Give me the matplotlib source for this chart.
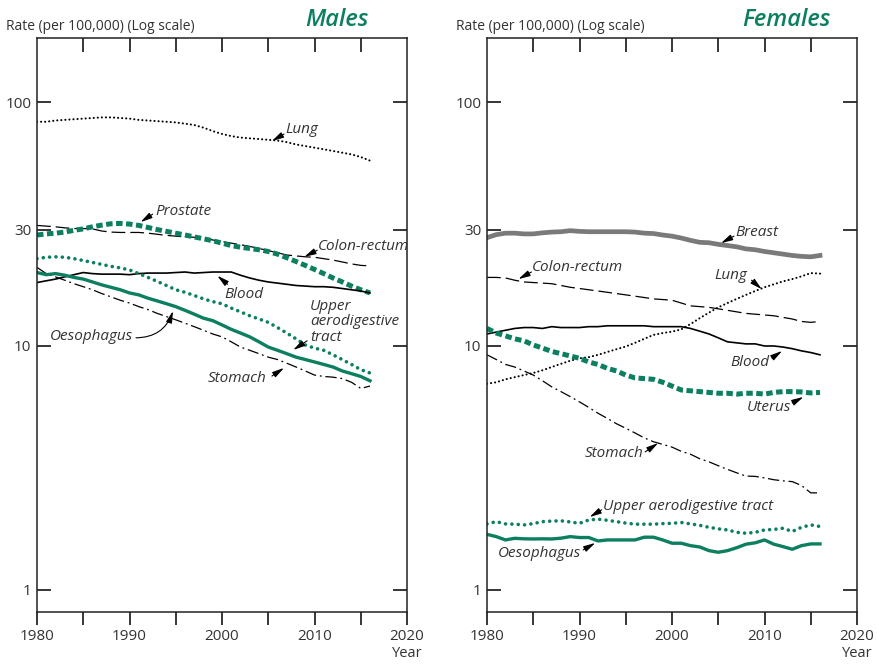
import matplotlib
matplotlib.use("Agg")
import matplotlib.pyplot as plt
import numpy as np

plt.rcParams['font.family'] = ['Open Sans', 'DejaVu Sans']

years = list(range(1980, 2017))

# ---- Males ----
m_lung = [83, 83, 84, 84.5, 85, 85.5, 86, 86.5, 86.5, 86, 85.5, 84.5, 84, 83.5, 83, 82.5, 81.5, 80.5,
          78.5, 76, 74, 72.5, 71.5, 71, 70.5, 70, 69.5, 68.5, 67, 66, 65, 64, 63, 62, 61, 59.5, 57.5]
m_prostate = [28.5, 28.8, 29, 29.3, 29.8, 30.2, 30.8, 31.3, 31.7, 31.8, 31.6, 31.2, 30.6, 30.0, 29.5, 29.0,
              28.5, 28.0, 27.5, 27.0, 26.4, 25.8, 25.4, 25.1, 24.8, 24.4, 23.8, 23.0, 22.2, 21.4, 20.6,
              19.8, 19.0, 18.3, 17.6, 17.0, 16.5]
m_colon = [31.2, 31.0, 30.8, 30.5, 30.3, 30.3, 30.2, 29.6, 29.3, 29.2, 29.2, 29.2, 29.0, 28.7, 28.4, 28.2,
           28.0, 27.9, 27.6, 27.2, 26.8, 26.4, 26.0, 25.6, 25.1, 24.6, 24.1, 23.6, 23.4, 23.2, 23.1, 22.8,
           22.5, 22.1, 21.7, 21.4, 21.3]
m_blood = [18.2, 18.5, 18.8, 19.2, 19.6, 20.0, 19.8, 19.7, 19.7, 19.7, 19.6, 19.8, 19.9, 19.9, 19.9, 20.0,
           20.1, 19.9, 20.0, 20.1, 20.1, 20.1, 19.5, 19.0, 18.6, 18.3, 18.1, 17.9, 17.7, 17.6, 17.5, 17.5,
           17.4, 17.2, 17.0, 16.8, 16.5]
m_upper = [22.8, 23.1, 23.2, 23.1, 22.8, 22.4, 22.0, 21.6, 21.2, 20.9, 20.5, 19.8, 19.1, 18.4, 17.7, 17.0,
           16.6, 16.1, 15.6, 15.2, 14.9, 14.3, 13.8, 13.3, 12.9, 12.5, 11.9, 11.3, 10.7, 10.1, 9.8, 9.6,
           9.2, 8.8, 8.4, 8.0, 7.75]
m_oeso = [20.0, 19.6, 19.8, 19.5, 19.1, 18.8, 18.3, 17.8, 17.4, 17.0, 16.5, 16.2, 15.7, 15.3, 14.9, 14.5,
          14.0, 13.5, 13.0, 12.7, 12.2, 11.7, 11.3, 10.9, 10.4, 9.9, 9.6, 9.3, 9.0, 8.8, 8.6, 8.4, 8.2,
          7.9, 7.7, 7.5, 7.2]
m_stomach = [21.0, 19.8, 19.2, 18.6, 18.0, 17.5, 17.0, 16.4, 15.9, 15.4, 15.0, 14.5, 14.1, 13.6, 13.2,
             12.8, 12.4, 12.0, 11.6, 11.2, 10.9, 10.4, 9.9, 9.6, 9.3, 9.0, 8.8, 8.5, 8.2, 7.9, 7.6, 7.5,
             7.45, 7.35, 7.1, 6.7, 6.85]

# ---- Females ----
f_breast = [27.8, 28.6, 29.0, 29.0, 28.8, 28.8, 29.1, 29.3, 29.4, 29.7, 29.5, 29.4, 29.4, 29.4, 29.4, 29.4,
            29.3, 29.0, 28.9, 28.5, 28.2, 27.7, 27.1, 26.6, 26.5, 26.1, 25.8, 25.5, 25.0, 24.8, 24.4,
            24.1, 23.8, 23.5, 23.3, 23.2, 23.5]
f_colon = [19.1, 19.1, 19.0, 18.6, 18.3, 18.2, 18.1, 18.0, 17.7, 17.4, 17.2, 17.0, 16.8, 16.6, 16.4, 16.2,
           16.0, 15.8, 15.6, 15.5, 15.4, 15.0, 14.6, 14.5, 14.4, 14.2, 14.0, 13.8, 13.6, 13.5, 13.4, 13.3,
           13.1, 12.9, 12.6, 12.5, 12.6]
f_lung = [7.0, 7.1, 7.3, 7.45, 7.6, 7.75, 7.95, 8.2, 8.45, 8.7, 8.9, 9.0, 9.2, 9.45, 9.7, 9.95, 10.3, 10.7,
          11.1, 11.3, 11.45, 11.7, 12.3, 13.0, 13.7, 14.4, 15.0, 15.6, 16.2, 16.8, 17.4, 17.9, 18.4, 18.8,
          19.3, 19.9, 19.8]
f_blood = [11.2, 11.4, 11.6, 11.8, 11.9, 11.9, 11.8, 12.0, 11.9, 11.9, 11.9, 12.0, 12.0, 12.1, 12.1, 12.1,
           12.1, 12.1, 12.0, 12.0, 12.0, 12.0, 11.8, 11.5, 11.2, 10.8, 10.4, 10.3, 10.2, 10.2, 10.0, 10.0,
           9.9, 9.75, 9.55, 9.4, 9.2]
f_uterus = [11.8, 11.3, 11.0, 10.7, 10.5, 10.1, 9.8, 9.5, 9.3, 9.1, 8.9, 8.6, 8.4, 8.1, 7.9, 7.6, 7.4, 7.35,
            7.3, 7.1, 6.85, 6.6, 6.55, 6.5, 6.45, 6.4, 6.4, 6.35, 6.4, 6.4, 6.35, 6.45, 6.5, 6.5, 6.48,
            6.42, 6.45]
f_stomach = [9.2, 8.8, 8.4, 8.2, 7.9, 7.6, 7.2, 6.8, 6.5, 6.2, 5.9, 5.6, 5.3, 5.05, 4.8, 4.6, 4.4, 4.2,
             4.05, 3.95, 3.85, 3.7, 3.6, 3.45, 3.35, 3.23, 3.12, 3.02, 2.93, 2.92, 2.88, 2.83, 2.8, 2.78,
             2.68, 2.5, 2.5]
f_upper = [1.865, 1.905, 1.865, 1.86, 1.847, 1.87, 1.905, 1.915, 1.92, 1.9, 1.875, 1.935, 1.95, 1.93, 1.905,
           1.88, 1.86, 1.86, 1.86, 1.87, 1.875, 1.89, 1.865, 1.84, 1.806, 1.78, 1.762, 1.723, 1.707, 1.723,
           1.762, 1.77, 1.79, 1.737, 1.806, 1.847, 1.82]
f_oeso = [1.69, 1.654, 1.603, 1.628, 1.62, 1.618, 1.62, 1.618, 1.63, 1.654, 1.64, 1.64, 1.588, 1.603, 1.603,
          1.603, 1.603, 1.645, 1.645, 1.603, 1.554, 1.554, 1.519, 1.50, 1.449, 1.427, 1.449, 1.49, 1.54,
          1.56, 1.603, 1.54, 1.505, 1.468, 1.519, 1.544, 1.544]

x_ticks = [1980, 1990, 2000, 2010, 2020]
x_minor = [1985, 1995, 2005, 2015]
y_ticks = [1, 10, 30, 100]
y_ticklabels = ['1', '10', '30', '100']

GREEN = '#0b7f5f'
GREY = '#7a7a7a'
TXT = '#333333'

fig = plt.figure(figsize=(8.77, 6.65), dpi=100)
axL = fig.add_axes([37/877, 1-612/665, 370/877, 574/665])
axR = fig.add_axes([487/877, 1-612/665, 370/877, 574/665])

styles = {
    'lung': dict(color='black', lw=1.5, linestyle=(0, (0.05, 1.9)), dash_capstyle='round'),
    'prostate': dict(color=GREEN, lw=3.6, linestyle=(0, (1.3, 0.7))),
    'colon': dict(color='black', lw=0.9, linestyle=(0, (11, 4))),
    'blood': dict(color='black', lw=1.2, linestyle='-'),
    'upper': dict(color=GREEN, lw=2.6, linestyle=(0, (0.01, 1.75)), dash_capstyle='round'),
    'oeso': dict(color=GREEN, lw=2.4, linestyle='-'),
    'stomach': dict(color='black', lw=0.9, linestyle=(0, (9, 3, 1.5, 3))),
    'breast': dict(color=GREY, lw=3.4, linestyle='-'),
}

axL.plot(years, m_lung, **styles['lung'])
axL.plot(years, m_colon, **styles['colon'])
axL.plot(years, m_prostate, **styles['prostate'])
axL.plot(years, m_blood, **styles['blood'])
axL.plot(years, m_stomach, **styles['stomach'])
axL.plot(years, m_upper, **styles['upper'])
axL.plot(years, m_oeso, **styles['oeso'])

axR.plot(years, f_breast, **styles['breast'])
axR.plot(years, f_colon, **styles['colon'])
axR.plot(years, f_lung, **styles['lung'])
axR.plot(years, f_blood, **styles['blood'])
axR.plot(years, f_stomach, **styles['stomach'])
axR.plot(years, f_uterus, **styles['prostate'])
axR.plot(years, f_upper, **styles['upper'])
axR.plot(years, f_oeso, **styles['oeso'])

for ax, title in [(axL, 'Males'), (axR, 'Females')]:
    ax.set_yscale('log')
    ax.set_xlim(1980, 2020)
    ax.set_ylim(0.812, 183)
    ax.set_yticks(y_ticks)
    ax.set_yticklabels(y_ticklabels)
    ax.yaxis.set_minor_locator(matplotlib.ticker.NullLocator())
    ax.tick_params(axis='y', which='major', direction='in', left=True, right=True, length=10,
                   width=1.1, labelsize=11, labelcolor=TXT, pad=4)
    for t in ax.yaxis.get_major_ticks():
        if abs(t.get_loc() - 30) < 1e-6:
            t.tick1line.set_color(GREY)
            t.tick2line.set_color(GREY)
    ax.set_xticks(x_ticks + x_minor)
    ax.set_xticklabels([str(v) for v in x_ticks] + [''] * len(x_minor))
    ax.tick_params(axis='x', which='major', direction='out', bottom=True, top=False, length=9,
                   width=1.1, labelsize=11, labelcolor=TXT, pad=3)
    sec = ax.secondary_xaxis('top')
    sec.set_xticks(x_minor + [1990, 2000, 2010])
    sec.tick_params(axis='x', direction='in', length=10, width=1.1, labeltop=False)
    sec.spines['top'].set_visible(False)
    for s in ax.spines.values():
        s.set_linewidth(1.1)
        s.set_color('#222222')
    ax.text(1.0, -0.073, 'Year', transform=ax.transAxes, ha='center', va='center',
            fontsize=10.5, color=TXT)
    ax.text(-0.083, 1.02, 'Rate (per 100,000) (Log scale)', transform=ax.transAxes,
            ha='left', va='center', fontsize=10, color=TXT)
    ax.text(0.81, 1.032, title, transform=ax.transAxes, ha='center', va='center',
            fontsize=17, color=GREEN, style='italic', fontweight='semibold')

def label(ax, text, pos, tail, tip, rad=0.0):
    ax.text(pos[0], pos[1], text, ha='left', va='center', fontsize=11, style='italic',
            color=TXT, linespacing=1.05)
    ax.annotate('', xy=tip, xytext=tail,
                arrowprops=dict(arrowstyle='-|>,head_length=0.7,head_width=0.18', color='black',
                                lw=0.8, shrinkA=0, shrinkB=0,
                                connectionstyle='arc3,rad=%s' % rad))

label(axL, 'Lung', (2006.8, 77.5), (2006.7, 73.9), (2005.4, 69.2))
label(axL, 'Prostate', (1992.8, 35.7), (1992.5, 34.7), (1991.2, 32.2))
label(axL, 'Colon-rectum', (2010.4, 25.5), (2010.3, 24.7), (2008.9, 23.2))
label(axL, 'Blood', (2000.3, 16.3), (2000.6, 17.9), (1999.5, 19.4))
label(axL, 'Upper\naerodigestive\ntract', (2009.5, 12.58), (2009.2, 10.5), (2007.7, 9.63))
label(axL, 'Oesophagus', (1981.4, 10.9), (1990.7, 10.8), (1994.7, 13.9), rad=0.35)
label(axL, 'Stomach', (1998.5, 7.33), (2005.4, 7.53), (2006.7, 8.13))

label(axR, 'Breast', (2006.8, 29.3), (2006.7, 28.2), (2005.3, 26.4))
label(axR, 'Colon-rectum', (1984.9, 20.9), (1984.8, 20.1), (1983.4, 18.8))
label(axR, 'Lung', (2004.6, 19.5), (2008.6, 18.6), (2009.7, 17.1))
label(axR, 'Blood', (2006.3, 8.52), (2010.8, 8.93), (2011.9, 9.54))
label(axR, 'Uterus', (2008.1, 5.57), (2013.0, 5.84), (2014.2, 6.18))
label(axR, 'Stomach', (1990.6, 3.61), (1997.1, 3.68), (1998.5, 4.0))
label(axR, 'Upper aerodigestive tract', (1992.5, 2.19), (1992.4, 2.13), (1991.1, 1.99))
label(axR, 'Oesophagus', (1981.2, 1.405), (1990.4, 1.459), (1991.7, 1.558))

fig.savefig('out.png', dpi=100)
